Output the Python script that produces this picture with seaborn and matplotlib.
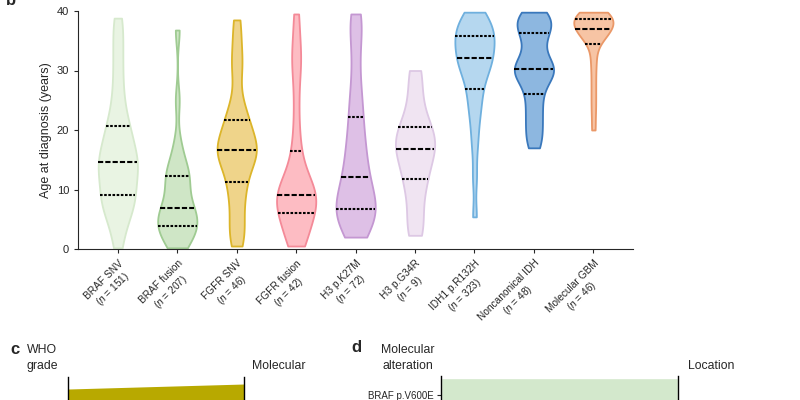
import numpy as np
import pandas as pd
import matplotlib
matplotlib.use("Agg")
import matplotlib.pyplot as plt
import seaborn as sns

sns.set_style("ticks")
plt.rcParams["font.family"] = ["Liberation Sans", "DejaVu Sans"]
plt.rcParams["mathtext.fontset"] = "custom"
plt.rcParams["mathtext.it"] = "Liberation Sans:italic"
plt.rcParams["mathtext.rm"] = "Liberation Sans"

# ---- panel b data (ages) ----
groups = ["BRAF SNV", "BRAF fusion", "FGFR SNV", "FGFR fusion", "H3 p.K27M",
          "H3 p.G34R", "IDH1 p.R132H", "Noncanonical IDH", "Molecular GBM"]
group_n = [151, 207, 46, 42, 72, 9, 323, 48, 46]

braf_snv = [0.2, 3, 5, 6, 7, 7.8, 8.5, 9.1, 10, 11, 12, 12.8, 13.5, 14.1, 14.6,
            15.2, 16, 16.8, 17.8, 19, 20, 20.7, 22.5, 24.5, 27, 30, 33, 36, 38.8]
braf_fusion = [0.2, 0.8, 1.5, 2.3, 3, 3.5, 3.9, 4.3, 4.8, 5.3, 5.8, 6.3, 6.9, 7.6,
               8.5, 9.8, 11, 11.8, 12.3, 13, 14, 15.5, 18, 25, 36.8]
fgfr_snv = [0.5, 2.5, 3.5, 6, 8.5, 10, 11.3, 13, 14.5, 15.5, 16, 16.3, 16.6, 17,
            17.5, 18.5, 20, 21, 21.6, 23, 25, 30, 31.5, 35, 38.5]
fgfr_fusion = [0.5, 1.2, 2.2, 3.3, 4.5, 5.3, 6.1, 6.8, 7.5, 8.2, 8.8, 9, 9.1, 9.5,
               10.2, 11, 12.5, 14, 16.5, 20, 25, 30, 32, 35, 39.5]
h3_k27m = [2, 3, 4, 5, 5.6, 6.2, 6.7, 7.3, 8, 9, 10, 11, 12.1, 13.5, 15, 16.5, 18,
           20, 22.2, 24.5, 27, 31, 35, 38, 39.5]
h3_g34r = [2.3, 5.5, 9, 11.7, 13.5, 15.5, 16.8, 17.8, 19.2, 20.5, 22.5, 26, 30]
idh1_r132h = [5.4, 12, 17, 20, 22.5, 24, 25.5, 26.9, 28.2, 29.2, 30, 30.7, 31.3,
              31.7, 32.1, 32.7, 33.3, 34, 34.6, 35.1, 35.5, 35.8, 36.3, 36.9, 37.5,
              38.1, 38.7, 39.3, 39.8]
noncanonical_idh = [17, 18.5, 20, 21.5, 23, 24.5, 26, 27.5, 28.5, 29.3, 29.8, 30.1,
                    30.3, 30.8, 31.5, 32.5, 34, 35.3, 36.3, 37, 37.7, 38.3, 38.8,
                    39.3, 39.8]
molecular_gbm = [20, 23, 25.5, 28, 30.5, 32.5, 34.5, 35.3, 35.8, 36.2, 36.5, 36.8, 37,
                 37.3, 37.6, 37.9, 38.2, 38.5, 38.7, 38.9, 39.1, 39.3, 39.5, 39.7, 39.8]

ages = [braf_snv, braf_fusion, fgfr_snv, fgfr_fusion, h3_k27m, h3_g34r,
        idh1_r132h, noncanonical_idh, molecular_gbm]

fill_colors = ["#e9f4e3", "#cfe6c6", "#efd48a", "#fdbcc3", "#dec0e6",
               "#f0e4f2", "#b5d7ef", "#8db7e0", "#f7c4a4"]
edge_colors = ["#d6e9cd", "#9fcb92", "#dcb52a", "#f48a98", "#c497d2",
               "#ddc8e4", "#6fb0de", "#3a78bc", "#ea9868"]

# ---- panels c/d (only the top edge is visible) ----
who_flow_top = [91.6, 95.1]   # left / right height of the grade -> molecular flow
alteration = ["BRAF p.V600E"]
alteration_share = [100]

df = pd.DataFrame({
    "group": np.repeat(groups, [len(a) for a in ages]),
    "age": np.concatenate(ages),
})

fig = plt.figure(figsize=(8, 4), dpi=100)
ax = fig.add_axes([0.0975, 0.3775, 0.694, 0.595])

sns.violinplot(data=df, x="group", y="age", hue="group", order=groups,
               hue_order=groups, palette=fill_colors, saturation=1, legend=False,
               inner="quart", cut=0, density_norm="width", width=0.66,
               bw_adjust=0.55, linewidth=1.3, linecolor="black",
               inner_kws=dict(color="black", linewidth=1.5), ax=ax)

for coll, ec in zip(ax.collections, edge_colors):
    coll.set_edgecolor(ec)

ax.set_xlim(-0.67, 8.67)
ax.set_ylim(0, 40)
ax.set_yticks([0, 10, 20, 30, 40])
ax.set_ylabel("Age at diagnosis (years)", fontsize=9, labelpad=3)
ax.set_xlabel("")
labels = [f"{g}\n($\\it{{n}}$ = {n})" for g, n in zip(groups, group_n)]
ax.set_xticks(range(len(groups)))
ax.set_xticklabels(labels, rotation=45, ha="right", va="top",
                   rotation_mode="anchor", multialignment="center", fontsize=7.3)
ax.tick_params(axis="y", labelsize=8, length=3, width=0.8)
ax.tick_params(axis="x", length=3, width=0.8)
for s in ["left", "bottom"]:
    ax.spines[s].set_linewidth(0.8)
sns.despine(ax=ax)

fig.text(0.008, 0.9875, "b", fontsize=12, fontweight="bold", va="baseline")

# panel c
ax_c = fig.add_axes([0.085, -0.3, 0.22, 0.3575])
ax_c.fill_between([0, 1], [0, 0], who_flow_top, color="#b8a900", lw=0)
ax_c.set_xlim(0, 1)
ax_c.set_ylim(0, 100)
ax_c.set_xticks([])
ax_c.set_yticks([])
for s in ["top", "bottom"]:
    ax_c.spines[s].set_visible(False)
for s in ["left", "right"]:
    ax_c.spines[s].set_linewidth(1)
    ax_c.spines[s].set_color("black")

fig.text(0.019, 0.125, "c", fontsize=12, fontweight="bold", ha="center", va="center")
fig.text(0.053, 0.104, "WHO\ngrade", fontsize=8.8, ha="center", va="center",
         multialignment="center", linespacing=1.45)
fig.text(0.315, 0.085, "Molecular", fontsize=8.8, ha="left", va="center")

# panel d
ax_d = fig.add_axes([0.551, -0.3, 0.2963, 0.36])
sns.barplot(x=alteration_share, y=alteration, orient="h", color="#d3e8cc",
            saturation=1, width=0.8, ax=ax_d)
ax_d.set_xlim(0, 100)
ax_d.set_ylim(2.94, -0.447)
ax_d.set_xticks([])
ax_d.set_xlabel("")
ax_d.set_ylabel("")
ax_d.tick_params(axis="y", labelsize=7, length=3, width=0.8, pad=2)
for s in ["top", "bottom"]:
    ax_d.spines[s].set_visible(False)
for s in ["left", "right"]:
    ax_d.spines[s].set_linewidth(1)
    ax_d.spines[s].set_color("black")

fig.text(0.446, 0.131, "d", fontsize=12, fontweight="bold", ha="center", va="center")
fig.text(0.51, 0.104, "Molecular\nalteration", fontsize=8.8, ha="center", va="center",
         multialignment="center", linespacing=1.45)
fig.text(0.86, 0.085, "Location", fontsize=8.8, ha="left", va="center")

fig.savefig("out.png", dpi=100)
